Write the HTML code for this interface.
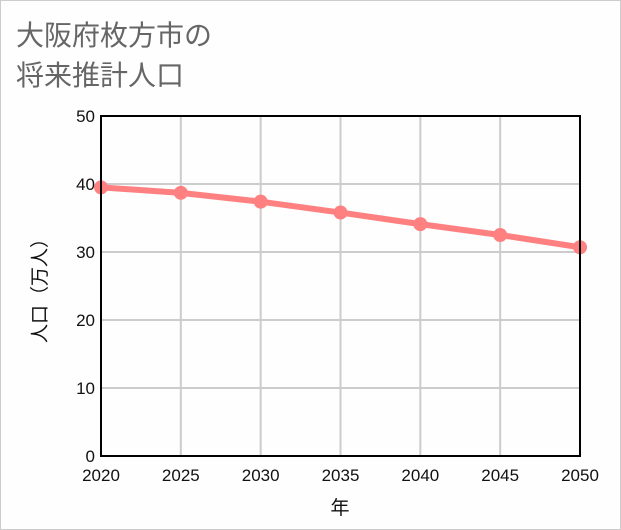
<!DOCTYPE html>
<html><head><meta charset="utf-8"><style>
body{margin:0;background:#fff}
svg{display:block;font-family:"Liberation Sans","Noto Sans CJK JP",sans-serif}
</style></head><body>
<svg width="621" height="530" viewBox="0 0 621 530">
<rect x="0.5" y="0.5" width="620" height="529" fill="#fdfefd" stroke="#cccccc"/>
<text x="16" y="45" font-size="28" fill="#666">大阪府枚方市の</text>
<text x="16" y="85" font-size="28" fill="#666">将来推計人口</text>
<g id="grid"></g>
<g id="series"></g>
<rect x="101" y="116" width="479" height="340" fill="none" stroke="#000" stroke-width="2"/>
<g id="ticks" font-size="17" fill="#111"></g>
<text x="46" y="286" font-size="19" fill="#111" text-anchor="middle" transform="rotate(-90 46 286)">人口（万人）</text>
<text x="340" y="514" font-size="19" fill="#111" text-anchor="middle">年</text>
</svg>
<script>
const years=[2020,2025,2030,2035,2040,2045,2050];
const population=[39.5,38.7,37.4,35.8,34.1,32.5,30.7];
const yTicks=[0,10,20,30,40,50];
const NS="http://www.w3.org/2000/svg";
const L=101,R=580,T=116,B=456;
const xs=v=>L+(v-2020)/30*(R-L);
const ys=v=>B-v/50*(B-T);
function mk(tag,attrs,parent,txt){const e=document.createElementNS(NS,tag);for(const k in attrs)e.setAttribute(k,attrs[k]);if(txt!==undefined)e.textContent=txt;parent.appendChild(e);return e;}
const grid=document.getElementById('grid'),ticks=document.getElementById('ticks'),series=document.getElementById('series');
yTicks.forEach(t=>{
  const g=mk('line',{x1:L,x2:R,y1:ys(t),y2:ys(t),stroke:'#cccccc','stroke-width':2},grid);
  
  
  const tx=mk('text',{x:L-6,y:ys(t)+6,'text-anchor':'end'},ticks,String(t));
  
  
});
years.forEach(y=>{
  const g=mk('line',{x1:xs(y),x2:xs(y),y1:T,y2:B,stroke:'#cccccc','stroke-width':2},grid);
  
  
  const tx=mk('text',{x:xs(y),y:481,'text-anchor':'middle'},ticks,String(y));
  
  
});
const pts=years.map((y,i)=>xs(y)+','+ys(population[i])).join(' ');
const line=mk('polyline',{points:pts,fill:'none',stroke:'#ff8080','stroke-width':6},series);


years.forEach((y,i)=>{
  const c=mk('circle',{cx:xs(y),cy:ys(population[i]),r:7,fill:'#ff8080'},series);
  
  
});
</script>
</body></html>
